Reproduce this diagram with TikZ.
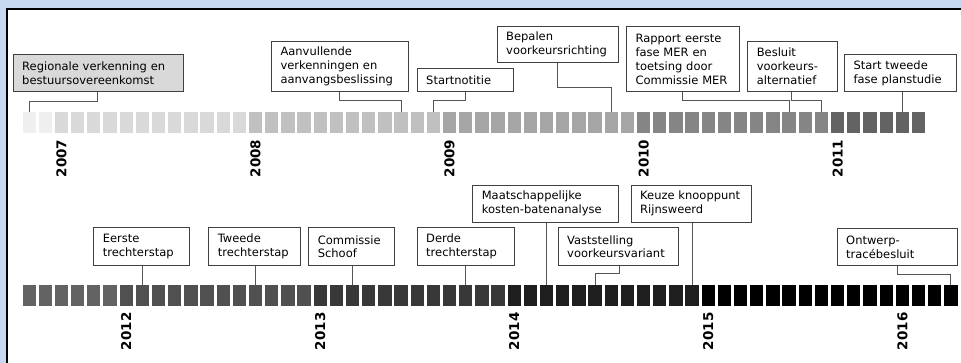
\documentclass[tikz,border=0pt]{standalone}
\usepackage{fontspec}
\setmainfont{DejaVu Sans}

% page and line colours
\definecolor{skyband}{HTML}{C6D9F0}
\definecolor{boxline}{HTML}{404040}
\definecolor{leadline}{HTML}{555555}
\definecolor{firstfill}{HTML}{D9D9D9}
% one shade of grey per year
\definecolor{yc2006}{HTML}{EFEFEF}
\definecolor{yc2007}{HTML}{D9D9D9}
\definecolor{yc2008}{HTML}{C0C0C0}
\definecolor{yc2009}{HTML}{A5A5A5}
\definecolor{yc2010}{HTML}{858585}
\definecolor{yc2011}{HTML}{636363}
\definecolor{yc2012}{HTML}{505050}
\definecolor{yc2013}{HTML}{383838}
\definecolor{yc2014}{HTML}{1E1E1E}
\definecolor{yc2015}{HTML}{000000}
\definecolor{yc2016}{HTML}{000000}

\tikzset{
  month/.style={minimum width=13.3pt, minimum height=21pt, inner sep=0pt,
    anchor=north west, draw=none},
  yearlbl/.style={rotate=90, anchor=east, inner sep=0pt,
    font=\fontsize{13.5}{13.5}\selectfont\bfseries},
  event/.style={draw=boxline, line width=1pt, fill=white, anchor=south west,
    align=left, inner xsep=9pt, inner ysep=0pt,
    font=\fontsize{11.5}{13.8}\selectfont},
  leader/.style={draw=leadline, line width=1pt},
}

\begin{document}
\begin{tikzpicture}[x=1pt,y=-1pt]
\useasboundingbox (0,0) rectangle (961,363);

% frame
\fill[skyband] (0,0) rectangle (961,363);
\fill[white] (7,9) rectangle (961,363);
\draw[line width=2pt, black] (7,363) -- (7,9) -- (961,9);

% upper row of months: Nov 2006 -- Jun 2011
\foreach \i in {0,...,55}{
  \pgfmathtruncatemacro\yr{2006+floor((\i+10)/12)}
  \node[month, fill=yc\yr] (t\i) at ({22.3+16.17*\i}, 111.7) {};
}
% lower row of months: Jul 2011 -- Apr 2016
\foreach \i in {0,...,57}{
  \pgfmathtruncatemacro\yr{2011+floor((\i+6)/12)}
  \node[month, fill=yc\yr] (b\i) at ({22.3+16.17*\i}, 285) {};
}

% year labels under each January
\foreach \yr/\k in {2007/2, 2008/14, 2009/26, 2010/38, 2011/50}
  \node[yearlbl] (lbl\yr) at ([yshift=-6.5pt]t\k.south) {\yr};
\foreach \yr/\k in {2012/6, 2013/18, 2014/30, 2015/42, 2016/54}
  \node[yearlbl] (lbl\yr) at ([yshift=-6pt]b\k.south) {\yr};

% upper milestones
\node[event, fill=firstfill, text width=152pt, minimum height=37.3pt] (regio) at (12.7,92.3)
  {Regionale verkenning en\\bestuursovereenkomst};
\draw[leader] ([xshift=85pt]regio.south west) -- ++(0,9.2) -| (t0.north);

\node[event, text width=119.3pt, minimum height=50.6pt] (aanv) at (271,92.3)
  {Aanvullende\\verkenningen en\\aanvangsbeslissing};
\draw[leader] ([xshift=68.3pt]aanv.south west) -- ++(0,8.7) -| (t23.north);

\node[event, text width=78pt, minimum height=23pt] (start) at (416.7,92.3)
  {Startnotitie};
\draw[leader] ([xshift=48.3pt]start.south west) -- ++(0,8.2) -| (t25.north);

\node[event, text width=103.6pt, minimum height=36.6pt] (bepalen) at (496.7,63.3)
  {Bepalen\\voorkeursrichting};
\draw[leader] ([xshift=61pt]bepalen.south west) -- ++(0,24) -| (t36.north);

\node[event, text width=95.3pt, minimum height=65pt] (rapport) at (626,92.3)
  {Rapport eerste\\fase MER en\\toetsing door\\Commissie MER};
\draw[leader] ([xshift=56.7pt]rapport.south west) -- ++(0,8.7) -| (t47.north);

\node[event, text width=71.4pt, minimum height=50.6pt] (besluit) at (747.3,92.3)
  {Besluit\\voorkeurs-\\alternatief};
\draw[leader] ([xshift=44.4pt]besluit.south west) -- ++(0,8.7) -| (t49.north);

\node[event, text width=94pt, minimum height=37.3pt] (tweede) at (844,92.3)
  {Start tweede\\fase planstudie};
\draw[leader] (t54.north |- tweede.south) -- (t54.north);

% lower milestones
\node[event, text width=78pt, minimum height=37.7pt] (eerstets) at (93.3,266)
  {Eerste\\trechterstap};
\draw[leader] (b7.north |- eerstets.south) -- (b7.north);

\node[event, text width=73.7pt, minimum height=37.7pt] (tweedets) at (208.3,266)
  {Tweede\\trechterstap};
\draw[leader] (b14.north |- tweedets.south) -- (b14.north);

\node[event, text width=67.7pt, minimum height=37.7pt] (schoof) at (308.3,266)
  {Commissie\\Schoof};
\draw[leader] (b20.north |- schoof.south) -- (b20.north);

\node[event, text width=79.3pt, minimum height=37.7pt] (derdets) at (416.7,266)
  {Derde\\trechterstap};
\draw[leader] (b27.north |- derdets.south) -- (b27.north);

\node[event, text width=128pt, minimum height=37pt] (mkba) at (472.3,222.7)
  {Maatschappelijke\\kosten-batenanalyse};
\draw[leader] (b32.north |- mkba.south) -- (b32.north);

\node[event, text width=102pt, minimum height=37.7pt] (vast) at (557.7,266)
  {Vaststelling\\voorkeursvariant};
\draw[leader] ([xshift=61.3pt]vast.south west) -- ++(0,7.5) -| (b35.north);

\node[event, text width=102.3pt, minimum height=37pt] (keuze) at (630.7,222.7)
  {Keuze knooppunt\\Rijnsweerd};
\draw[leader] (b41.north |- keuze.south) -- (b41.north);

\node[event, text width=102pt, minimum height=36.7pt] (otb) at (836.7,266)
  {Ontwerp-\\tracébesluit};
\draw[leader] ([xshift=61pt]otb.south west) -- ++(0,8.3) -| (b57.north);

\end{tikzpicture}
\end{document}
